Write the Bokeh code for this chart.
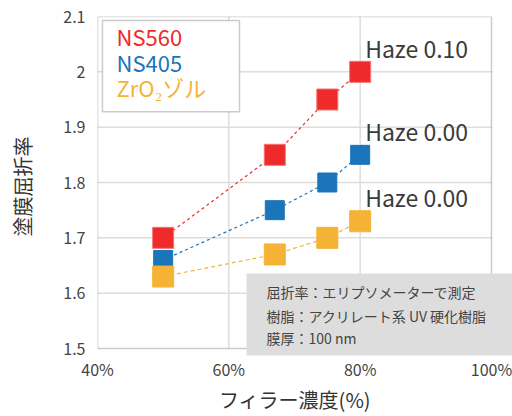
from bokeh.plotting import figure
from bokeh.models import Label, BoxAnnotation, FixedTicker, Range1d, ColumnDataSource
from bokeh.core.properties import value
from bokeh.embed import file_html
from bokeh.resources import INLINE

FONT = "Noto Sans CJK JP"

# ---- data ----
filler = [50, 67, 75, 80]
ns560 = [1.70, 1.85, 1.95, 2.00]
ns405 = [1.66, 1.75, 1.80, 1.85]
zro2 = [1.63, 1.67, 1.70, 1.73]

series_names = ["NS560", "NS405", "ZrO₂ゾル"]
series_colors = ["#EE2A2B", "#1B75BB", "#F5B335"]
series_edges = ["#F47272", "#1B75BB", "#F5B335"]
series_sizes = [21, 19, 21]
series_dashes = ["3 3", "3 3", "4 3"]
haze_labels = ["Haze 0.10", "Haze 0.00", "Haze 0.00"]

x_ticks = [40, 60, 80, 100]
x_tick_labels = ["40%", "60%", "80%", "100%"]
y_ticks = [1.5, 1.6, 1.7, 1.8, 1.9, 2.0, 2.1]
y_tick_labels = ["1.5", "1.6", "1.7", "1.8", "1.9", "2", "2.1"]

notes = ["屈折率：エリプソメーターで測定", "樹脂：アクリレート系 UV 硬化樹脂", "膜厚：100 nm"]

x_title = "フィラー濃度(%)"
y_title = "塗膜屈折率"

X0, X1 = x_ticks[0], x_ticks[-1]
Y0, Y1 = y_ticks[0], y_ticks[-1]

# ---- figure (frame extended right/down so the notes box can overhang) ----
p = figure(width=512, height=416,
           x_range=Range1d(X0, 103.2), y_range=Range1d(1.48555, Y1),
           output_backend="svg", toolbar_location=None,
           min_border_left=97, min_border_right=0,
           min_border_top=16, min_border_bottom=60)
p.background_fill_color = "white"
p.border_fill_color = "white"
p.outline_line_color = None
p.grid.visible = False

p.xaxis.ticker = FixedTicker(ticks=x_ticks)
p.yaxis.ticker = FixedTicker(ticks=y_ticks)
p.xaxis.major_label_overrides = dict(zip(x_ticks, x_tick_labels))
p.yaxis.major_label_overrides = dict(zip(y_ticks, y_tick_labels))
p.xaxis.bounds = (X0, X1)
p.yaxis.bounds = (Y0, Y1)

for ax in (p.xaxis, p.yaxis):
    ax.axis_line_color = None
    ax.major_tick_line_color = None
    ax.minor_tick_line_color = None
    ax.major_tick_out = 0
    ax.major_tick_in = 0
    ax.major_label_text_font = FONT
    ax.major_label_text_font_size = "16px"
    ax.major_label_text_color = "#444444"
    ax.axis_label_text_font = FONT
    ax.axis_label_text_font_size = "20px"
    ax.axis_label_text_font_style = "normal"
    ax.axis_label_text_color = "#333333"

# trailing ideographic space re-centres the title under the 40-100 % span
p.xaxis.axis_label = x_title + "\u3000"
p.yaxis.axis_label = y_title
p.xaxis.major_label_standoff = 0
p.yaxis.major_label_standoff = 12
p.xaxis.axis_label_standoff = 1
p.yaxis.axis_label_standoff = 23

# ---- grid lines (inside the 40-100 / 1.5-2.1 box only) ----
gx = x_ticks[1:-1]
gy = y_ticks[1:-1]
p.segment(x0=gx, y0=[Y0] * len(gx), x1=gx, y1=[Y1] * len(gx),
          line_color="#dddddd", line_width=1.5)
p.segment(x0=[X0] * len(gy), y0=gy, x1=[X1] * len(gy), y1=gy,
          line_color="#dddddd", line_width=1.5)

# ---- series ----
all_series = [ns560, ns405, zro2]
for vals, col, dash in zip(all_series, series_colors, series_dashes):
    p.line(filler, vals, line_color=col, line_dash=dash, line_width=1.2)
for vals, col, edge, sz in zip(all_series, series_colors, series_edges, series_sizes):
    p.scatter(filler, vals, marker="square", size=sz,
              fill_color=col, line_color=edge, line_width=1)

# haze labels next to last points
src = ColumnDataSource(dict(
    x=[filler[-1]] * len(all_series),
    y=[s[-1] for s in all_series],
    t=haze_labels))
p.text(x="x", y="y", text="t", source=src, x_offset=5, y_offset=-24,
       text_font=value(FONT), text_font_size="23px", text_color="#3a3a3a",
       text_align="left", text_baseline="middle")

# ---- plot frame ----
p.add_layout(BoxAnnotation(left=X0, right=X1, bottom=Y0, top=Y1,
                           fill_alpha=0, line_color="#555555", line_width=1.5))

# ---- legend box ----
p.add_layout(BoxAnnotation(left=40.76, right=61.62, top=2.0928, bottom=1.928,
                           fill_color="white", fill_alpha=1.0,
                           line_color="#555555", line_width=1.5))
leg_y = [2.0640, 2.0170, 1.9720]
for name, col, yy in zip(series_names, series_colors, leg_y):
    p.add_layout(Label(x=42.9, y=yy, text=name, text_color=col,
                       text_font=FONT, text_font_size="22px",
                       text_align="left", text_baseline="middle"))

# ---- notes box ----
p.add_layout(BoxAnnotation(left=62.69, right=105, top=1.6355, bottom=1.4873,
                           fill_color="#dddddd", fill_alpha=1.0, line_color=None))
note_y = [1.6030, 1.5590, 1.5190]
for line, yy in zip(notes, note_y):
    p.add_layout(Label(x=65.73, y=yy, text=line,
                       text_font=FONT, text_font_size="14px", text_color="#444444",
                       text_align="left", text_baseline="middle"))

open("out.html", "w").write(file_html(p, INLINE))
